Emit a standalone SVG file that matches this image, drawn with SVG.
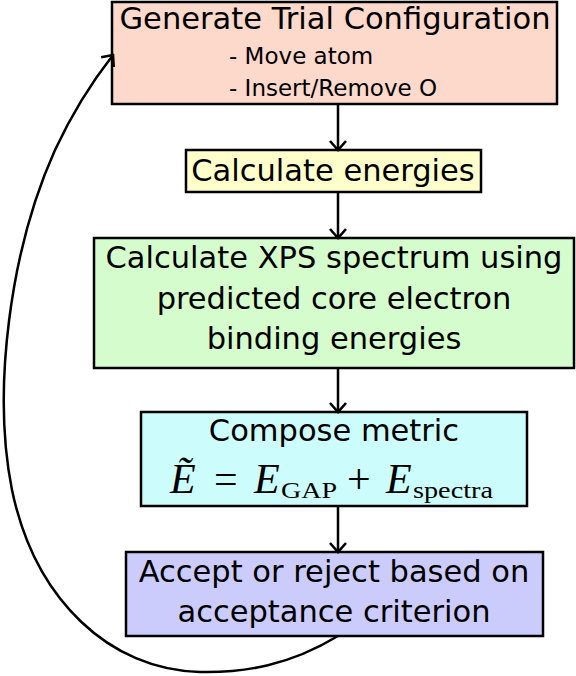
<svg xmlns="http://www.w3.org/2000/svg" width="576" height="676" viewBox="0 0 576 676">
<style>
.box{stroke:#000;stroke-width:2.5}
.t{font-family:"DejaVu Sans",sans-serif;font-size:30.5px;fill:#000;text-anchor:middle}
.s{font-family:"DejaVu Sans",sans-serif;font-size:23px;fill:#000}
.m{font-family:"Liberation Serif",serif;fill:#000}
.c{fill:none;stroke:#000;stroke-width:2.5}
</style>
<defs>
<marker id="ah" viewBox="0 0 20 20" refX="18" refY="10" markerWidth="20" markerHeight="20" markerUnits="userSpaceOnUse" orient="auto">
<path d="M9,2 L18,10 L9,18" fill="none" stroke="#000" stroke-width="2.6"/>
</marker>
</defs>
<g id="n1">
<rect class="box" x="112" y="2" width="445" height="102" fill="#fdd9cc"/>
<text class="t" x="335" y="29">Generate Trial Configuration</text>
<text class="s" x="229" y="64">- Move atom</text>
<text class="s" x="229" y="96">- Insert/Remove O</text>
</g>
<g id="n2">
<rect class="box" x="186" y="150" width="295" height="42" fill="#ffffcc"/>
<text class="t" x="333" y="181">Calculate energies</text>
</g>
<g id="n3">
<rect class="box" x="94" y="238" width="480" height="130" fill="#d5fccc"/>
<text class="t" x="334" y="268">Calculate XPS spectrum using</text>
<text class="t" x="334" y="309">predicted core electron</text>
<text class="t" x="334" y="349">binding energies</text>
</g>
<g id="n4">
<rect class="box" x="141" y="412" width="386" height="94" fill="#ccfcfc"/>
<text class="t" x="334" y="441">Compose metric</text>
<text class="m" x="170" y="493" font-size="42" font-style="italic">Ẽ</text>
<text class="m" x="214" y="493" font-size="42">=</text>
<text class="m" x="254" y="493" font-size="42" font-style="italic">E</text>
<text class="m" x="281" y="498" font-size="24" textLength="56" lengthAdjust="spacingAndGlyphs">GAP</text>
<text class="m" x="347" y="493" font-size="42">+</text>
<text class="m" x="386" y="493" font-size="42" font-style="italic">E</text>
<text class="m" x="413" y="498" font-size="24" textLength="80" lengthAdjust="spacingAndGlyphs">spectra</text>
</g>
<g id="n5">
<rect class="box" x="126" y="552" width="417" height="84" fill="#ccccfc"/>
<text class="t" x="334" y="582">Accept or reject based on</text>
<text class="t" x="334" y="622">acceptance criterion</text>
</g>
<g id="connectors">
<path class="c" d="M338,104 V150" marker-end="url(#ah)"/>
<path class="c" d="M338,192 V238" marker-end="url(#ah)"/>
<path class="c" d="M338,368 V412" marker-end="url(#ah)"/>
<path class="c" d="M338,506 V552" marker-end="url(#ah)"/>
<path class="c" d="M338,636 C290,665 245,673 200,672 C110,670 35,600 12,490 C-8,390 10,250 55,150 C75,107 95,78 113,55" marker-end="url(#ah)"/>
</g>
</svg>
